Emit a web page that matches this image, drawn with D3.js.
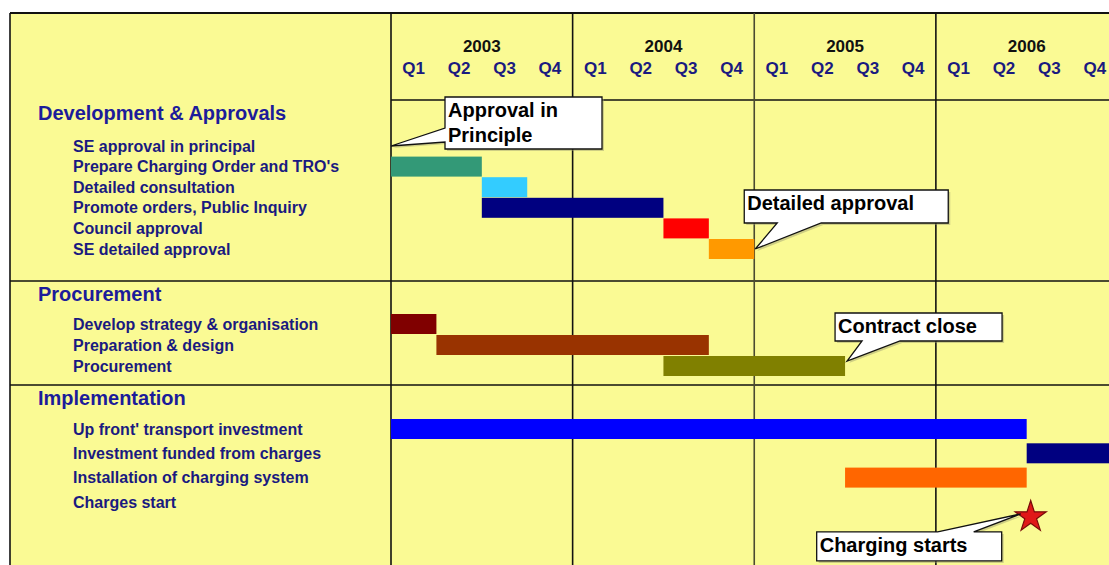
<!DOCTYPE html>
<html>
<head>
<meta charset="utf-8">
<script src="https://cdn.jsdelivr.net/npm/d3@7"></script>
<style>
  body { margin: 0; background: #fff; }
  svg { display: block; }
  text { font-family: "Liberation Sans", Arial, sans-serif; }
</style>
</head>
<body>
<svg id="chart" width="1109" height="565"></svg>
<script>
// ---- Programme data ----
const years = [2003, 2004, 2005, 2006];
const quarters = ["Q1", "Q2", "Q3", "Q4"];
const sections = ["Development & Approvals", "Procurement", "Implementation"];
const devTasks = [
  "SE approval in principal",
  "Prepare Charging Order and TRO's",
  "Detailed consultation",
  "Promote orders, Public Inquiry",
  "Council approval",
  "SE detailed approval"
];
const procTasks = [
  "Develop strategy & organisation",
  "Preparation & design",
  "Procurement"
];
const implTasks = [
  "Up front' transport investment",
  "Investment funded from charges",
  "Installation of charging system",
  "Charges start"
];

// Activity bars: task, start and end (in years, quarter resolution)
const barTask = [
  "Prepare Charging Order and TRO's",
  "Detailed consultation",
  "Promote orders, Public Inquiry",
  "Council approval",
  "SE detailed approval",
  "Develop strategy & organisation",
  "Preparation & design",
  "Procurement",
  "Up front' transport investment",
  "Investment funded from charges",
  "Installation of charging system"
];
const barStart = [2003.0, 2003.5, 2003.5, 2004.5, 2004.75, 2003.0, 2003.25, 2004.5, 2003.0, 2006.5, 2005.5];
const barEnd   = [2003.5, 2003.75, 2004.5, 2004.75, 2005.0, 2003.25, 2004.75, 2005.5, 2006.5, 2007.0, 2006.5];

// Milestone
const milestoneTask = "Charges start";
const milestoneTime = 2006.5;

// Callouts: text lines, task row and time they point at
const calloutText = [["Approval in", "Principle"], ["Detailed approval"], ["Contract close"], ["Charging starts"]];
const calloutTask = ["SE approval in principal", "SE detailed approval", "Procurement", "Charges start"];
const calloutTime = [2003.0, 2005.0, 2005.5, 2006.5];

// ---- Styling ----
const barColor = {
  "Prepare Charging Order and TRO's": "#339977",
  "Detailed consultation": "#33ccff",
  "Promote orders, Public Inquiry": "#000080",
  "Council approval": "#ff0000",
  "SE detailed approval": "#ff9900",
  "Develop strategy & organisation": "#800000",
  "Preparation & design": "#993300",
  "Procurement": "#808000",
  "Up front' transport investment": "#0000ff",
  "Investment funded from charges": "#000080",
  "Installation of charging system": "#ff6600"
};
const YELLOW = "#fafa94";
const NAVY = "#1a1a80";
const LINE = "#111";

const W = 1109, H = 565;
const frameLeft = 10, frameTop = 13, labelRight = 391, headerBottom = 100;

// Section layout: top rule, first task row and row pitch
const sectionLayout = [
  { top: 100, first: 146, pitch: 20.6, tasks: devTasks },
  { top: 281, first: 324, pitch: 21, tasks: procTasks },
  { top: 385, first: 429, pitch: 24.3, tasks: implTasks }
];

const x = d3.scaleLinear().domain([2003, 2007]).range([labelRight, 1117.5]);

// Row positions per task via point scales for each section
const rowY = {};
sectionLayout.forEach(s => {
  const sc = d3.scalePoint()
    .domain(s.tasks)
    .range([s.first, s.first + s.pitch * (s.tasks.length - 1)]);
  s.tasks.forEach(t => rowY[t] = sc(t));
});

const svg = d3.select("#chart");

// Background
svg.append("rect").attr("x", frameLeft).attr("y", frameTop)
  .attr("width", W - frameLeft).attr("height", H - frameTop)
  .attr("fill", YELLOW);

// Header: years and quarters
const header = svg.append("g");
header.selectAll("text.year").data(years).join("text")
  .attr("class", "year")
  .attr("x", d => x(d + 0.5)).attr("y", 52)
  .attr("text-anchor", "middle")
  .attr("font-size", 17).attr("font-weight", "bold").attr("fill", "#111")
  .text(d => d);

const qData = years.flatMap(y => quarters.map((q, i) => ({ y, q, i })));
header.selectAll("text.q").data(qData).join("text")
  .attr("class", "q")
  .attr("x", d => x(d.y + (d.i + 0.5) / 4)).attr("y", 74)
  .attr("text-anchor", "middle")
  .attr("font-size", 17).attr("font-weight", "bold").attr("fill", NAVY)
  .text(d => d.q);

// Grid lines
const grid = svg.append("g").attr("stroke", LINE).attr("stroke-width", 1.6);
grid.append("line").attr("x1", frameLeft).attr("x2", W).attr("y1", frameTop).attr("y2", frameTop).attr("stroke-width", 2);
grid.append("line").attr("x1", frameLeft).attr("x2", frameLeft).attr("y1", frameTop).attr("y2", H);
grid.append("line").attr("x1", labelRight).attr("x2", W).attr("y1", headerBottom).attr("y2", headerBottom);
sectionLayout.slice(1).forEach(s => {
  grid.append("line").attr("x1", frameLeft).attr("x2", W).attr("y1", s.top).attr("y2", s.top);
});
grid.selectAll("line.yr").data(years).join("line")
  .attr("class", "yr")
  .attr("x1", d => x(d)).attr("x2", d => x(d))
  .attr("y1", frameTop).attr("y2", H)
  .attr("stroke", d => d === 2005 ? "#4a4a30" : LINE);

// Section headings
svg.selectAll("text.section").data(sectionLayout).join("text")
  .attr("class", "section")
  .attr("x", 38).attr("y", s => s.top + 13)
  .attr("dy", "0.35em")
  .attr("font-size", 20).attr("font-weight", "bold").attr("fill", "#1c1c9a")
  .text((s, i) => sections[i]);

// Task labels
const allTasks = [...devTasks, ...procTasks, ...implTasks];
svg.selectAll("text.task").data(allTasks).join("text")
  .attr("class", "task")
  .attr("x", 73).attr("y", d => rowY[d])
  .attr("dy", "0.35em")
  .attr("font-size", 16).attr("font-weight", "bold").attr("fill", NAVY)
  .text(d => d);

// Bars
const barH = 20;
const bars = barTask.map((t, i) => ({ t, s: barStart[i], e: barEnd[i] }));
svg.append("g").selectAll("rect").data(bars).join("rect")
  .attr("x", d => x(d.s))
  .attr("y", d => rowY[d.t] - barH / 2)
  .attr("width", d => x(d.e) - x(d.s))
  .attr("height", barH)
  .attr("fill", d => barColor[d.t]);

// Milestone star
const star = d3.symbol().type(d3.symbolStar).size(300);
svg.append("path")
  .attr("d", star())
  .attr("transform", `translate(${x(milestoneTime) + 4},${rowY[milestoneTask] + 15})`)
  .attr("fill", "#e01818").attr("stroke", "#7a0a0a").attr("stroke-width", 1.2);

// Callouts: box offset from target, size, wedge edge and wedge base
const calloutLayout = [
  { dx: 54, dy: -49, w: 157, h: 52, edge: "left", a: -18, b: -4, tipDx: 0, tipDy: 0 },
  { dx: -11, dy: -59, w: 204, h: 33, edge: "bottom", a: 22, b: 66, tipDx: 1, tipDy: 0 },
  { dx: -12, dy: -48, w: 167, h: 28, edge: "bottom", a: 15, b: 53, tipDx: 2, tipDy: -5 },
  { dx: -204, dy: 18, w: 185, h: 29, edge: "top", a: -83, b: -47, tipDx: -6, tipDy: 12 }
];

function calloutPath(bx, by, w, h, edge, a, b, tx, ty) {
  const p = [];
  p.push([bx, by]);
  if (edge === "top") { p.push([a, by], [tx, ty], [b, by]); }
  p.push([bx + w, by]);
  p.push([bx + w, by + h]);
  if (edge === "bottom") { p.push([b, by + h], [tx, ty], [a, by + h]); }
  p.push([bx, by + h]);
  if (edge === "left") { p.push([bx, b], [tx, ty], [bx, a]); }
  return "M" + p.map(q => q.join(",")).join("L") + "Z";
}

const callouts = svg.append("g");
calloutText.forEach((lines, i) => {
  const L = calloutLayout[i];
  const tx = x(calloutTime[i]) + L.tipDx;
  const ty = rowY[calloutTask[i]] + L.tipDy;
  const bx = tx + L.dx, by = ty + L.dy;
  let a, b;
  if (L.edge === "left") { a = ty + L.a; b = ty + L.b; }
  else { a = tx + L.a; b = tx + L.b; }
  const d = calloutPath(bx, by, L.w, L.h, L.edge, a, b, tx, ty);
  callouts.append("path").attr("d", d)
    .attr("transform", "translate(2,2)")
    .attr("fill", "#9a9a70").attr("opacity", 0.45);
  callouts.append("path").attr("d", d)
    .attr("fill", "#fff").attr("stroke", "#111").attr("stroke-width", 1.3)
    .attr("stroke-linejoin", "miter");
  callouts.append("text")
    .attr("x", bx + 3).attr("y", by + 20)
    .attr("font-size", 20).attr("font-weight", "bold").attr("fill", "#000")
    .selectAll("tspan").data(lines).join("tspan")
    .attr("x", bx + 3).attr("dy", (dd, j) => j === 0 ? 0 : 25)
    .text(dd => dd);
});
</script>
</body>
</html>
